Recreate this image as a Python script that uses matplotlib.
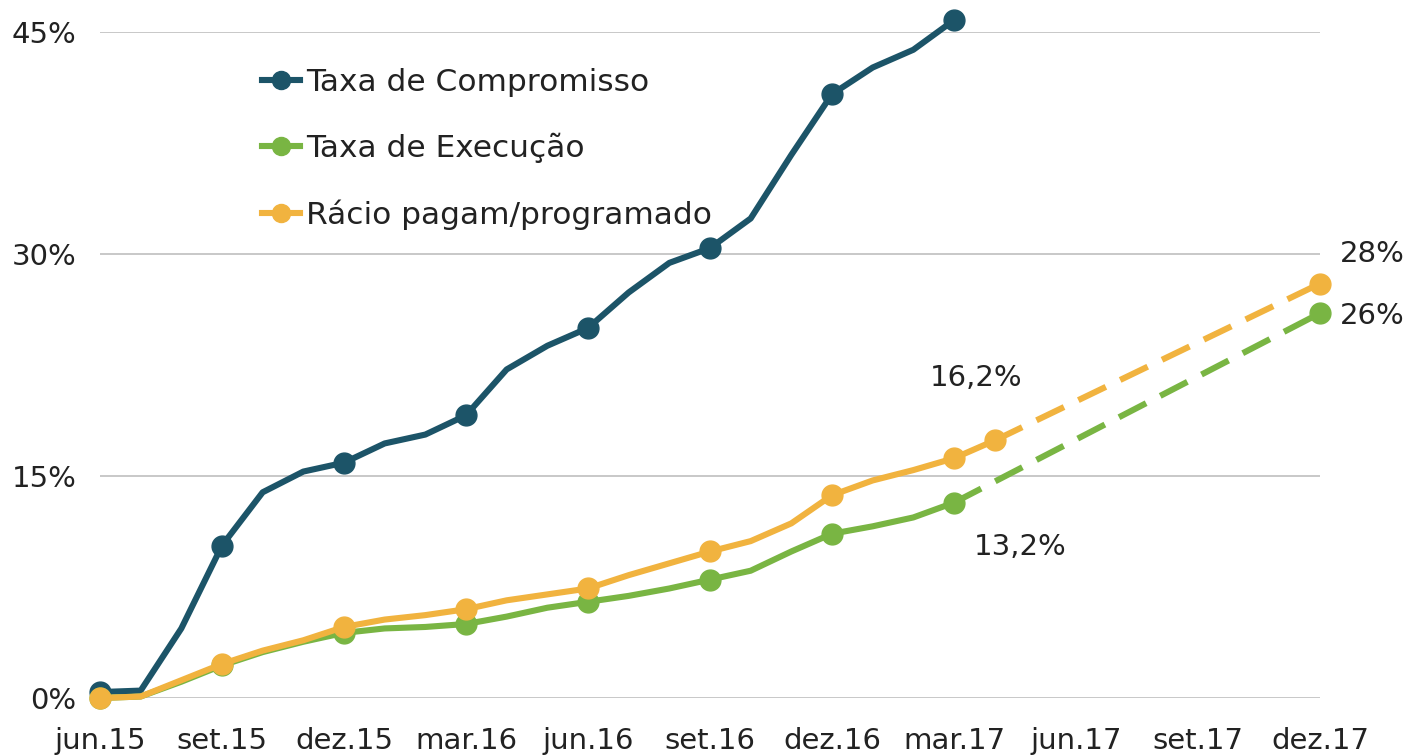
import numpy as np
import matplotlib as mpl
mpl.use('Agg')
import matplotlib.pyplot as plt
from matplotlib.lines import Line2D

# months jun.15 .. dez.17
tickLabels = ['jun.15', 'set.15', 'dez.15', 'mar.16', 'jun.16', 'set.16',
              'dez.16', 'mar.17', 'jun.17', 'set.17', 'dez.17']

compromisso = [0.4, 0.5, 4.7, 10.3, 13.9, 15.3, 15.9, 17.2, 17.8, 19.1, 22.2,
               23.8, 25.0, 27.4, 29.4, 30.4, 32.4, 36.7, 40.8, 42.6, 43.8, 45.8]
execucao = [0.0, 0.1, 1.1, 2.2, 3.1, 3.8, 4.4, 4.7, 4.8, 5.0, 5.5,
            6.1, 6.5, 6.9, 7.4, 8.0, 8.6, 9.9, 11.1, 11.6, 12.2, 13.2]
racio = [0.0, 0.1, 1.2, 2.3, 3.2, 3.9, 4.8, 5.3, 5.6, 6.0, 6.6,
         7.0, 7.4, 8.3, 9.1, 9.9, 10.6, 11.8, 13.7, 14.7, 15.4, 16.2, 17.4]
execucaoMeta = 26.0
racioMeta = 28.0
nMonths = 31

cBlue = '#1c5468'
cGreen = '#79b543'
cOrange = '#f1b33f'
cText = '#222222'

mpl.rcParams['font.family'] = 'DejaVu Sans'
mpl.rcParams['font.size'] = 21
mpl.rcParams['text.color'] = cText

fig = plt.figure(figsize=(14.09, 7.56), dpi=100)
ax = fig.add_axes([100/1409., 1-698/756., (1320-100)/1409., (698-32)/756.])

lw = 4.4
ms = 15
fs = 21

def quarterly(n):
    return [i for i in range(0, n, 3)]

x = np.arange(nMonths)
xc = x[:len(compromisso)]
xe = x[:len(execucao)]
xr = x[:len(racio)]

ax.plot(xc, compromisso, color=cBlue, lw=lw, marker='o', ms=ms,
        markevery=quarterly(len(compromisso)), zorder=3, clip_on=False,
        solid_capstyle='round')
ax.plot(xe, execucao, color=cGreen, lw=lw, marker='o', ms=ms,
        markevery=quarterly(len(execucao)), zorder=4, clip_on=False,
        solid_capstyle='round')
ax.plot(xr, racio, color=cOrange, lw=lw, marker='o', ms=ms,
        markevery=quarterly(len(racio)) + [len(racio)-1], zorder=5,
        clip_on=False, solid_capstyle='round')

# projections to dez.17
ax.plot([xe[-1], x[-1]], [execucao[-1], execucaoMeta], color=cGreen, lw=lw,
        dashes=[5, 2.6], zorder=4, clip_on=False)
ax.plot([xr[-1], x[-1]], [racio[-1], racioMeta], color=cOrange, lw=lw,
        dashes=[5, 2.6], zorder=5, clip_on=False)
ax.plot([x[-1]], [execucaoMeta], 'o', color=cGreen, ms=ms, zorder=4, clip_on=False)
ax.plot([x[-1]], [racioMeta], 'o', color=cOrange, ms=ms, zorder=5, clip_on=False)

# value labels
ax.annotate('45,8%', (xc[-1], compromisso[-1]), xytext=(14, 0),
            textcoords='offset points', va='center', ha='left', fontsize=fs)
ax.annotate('16,2%', (21, racio[21]), xytext=(16, 58),
            textcoords='offset points', va='center', ha='center', fontsize=fs)
ax.annotate('13,2%', (21, execucao[21]), xytext=(48, -32),
            textcoords='offset points', va='center', ha='center', fontsize=fs)
ax.annotate('28%', (x[-1], racioMeta), xytext=(14, 21),
            textcoords='offset points', va='center', ha='left', fontsize=fs)
ax.annotate('26%', (x[-1], execucaoMeta), xytext=(14, -2),
            textcoords='offset points', va='center', ha='left', fontsize=fs)

ax.set_xlim(0, nMonths-1)
ax.set_ylim(0, 45)
ax.set_xticks(np.arange(0, nMonths, 3))
ax.set_xticklabels(tickLabels)
ax.set_yticks([0, 15, 30, 45])
ax.set_yticklabels(['0%', '15%', '30%', '45%'])
ax.tick_params(axis='both', length=0, labelsize=fs, colors=cText)
ax.tick_params(axis='y', pad=17)
ax.tick_params(axis='x', pad=21)
ax.grid(axis='y', color='#c8c8c8', lw=1.4)
ax.set_axisbelow(True)
for s in ax.spines.values():
    s.set_visible(False)

# legend with single marker handles
handles = [Line2D([], [], color=c, lw=lw, marker='o', ms=13)
           for c in (cBlue, cGreen, cOrange)]
labels = ['Taxa de Compromisso', 'Taxa de Execução', 'Rácio pagam/programado']
lg = ax.legend(handles, labels, loc='upper left', numpoints=1,
               bbox_to_anchor=(162/1220., (698-68)/666.), frameon=False,
               handlelength=1.2, handletextpad=0.2, labelspacing=1.15,
               borderpad=0, borderaxespad=0, fontsize=22.5)

fig.savefig('out.png', dpi=100)
